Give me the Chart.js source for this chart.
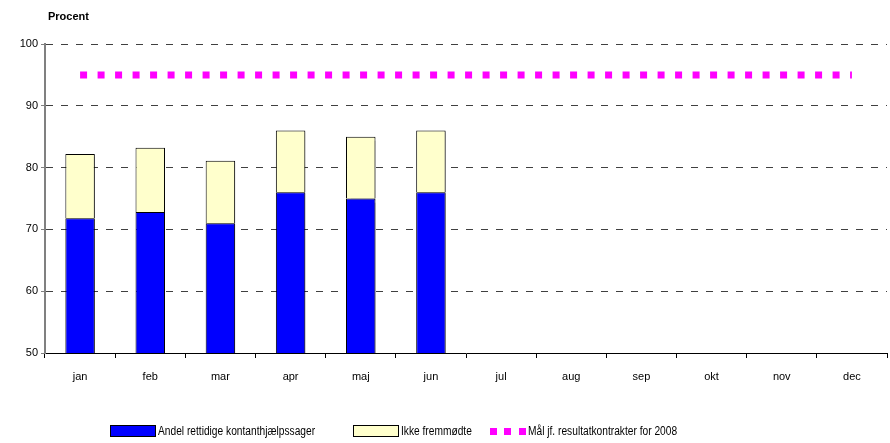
<!DOCTYPE html>
<html>
<head>
<meta charset="utf-8">
<script src="https://cdn.jsdelivr.net/npm/chart.js@4/dist/chart.umd.min.js"></script>
<style>
	body{margin:0;background:#fff;}
	#wrap{position:relative;width:890px;height:443px;}
	#legend{position:absolute;left:110px;top:424px;display:flex;align-items:center;font:12px "Liberation Sans",Arial,sans-serif;color:#000;white-space:nowrap;}
	#legend .item{display:flex;align-items:center;}
	#legend .item.i0{margin-right:38px;}
	#legend .item.i1{margin-right:18px;}
	#legend .box{width:44px;height:10px;border:1px solid #000;margin-right:2px;}
	#legend .dots{display:flex;width:36px;justify-content:space-between;margin-right:2px;}
	#legend .dots span{width:7px;height:7px;}
	#legend .txt{display:inline-block;transform:scaleX(0.85);transform-origin:left center;}
</style>
</head>
<body>
<div id="wrap">
	<canvas id="chart" width="890" height="443"></canvas>
	<div id="legend"></div>
</div>
<script>
const months = ['jan','feb','mar','apr','maj','jun','jul','aug','sep','okt','nov','dec'];
const andel = [71.8, 72.8, 71.0, 76.0, 75.0, 76.0]; // andel rettidige
const ikke = [10.4, 10.4, 10.1, 10.0, 10.0, 10.0]; // ikke fremmødte (oven på)
const maal = [95,95,95,95,95,95,95,95,95,95,95,95];

const fam = '"Liberation Sans", Arial, sans-serif';
const font = {family:fam, size:11};

// "Procent" over y-aksen
const procentLabel = {
	id:'procentLabel',
	afterDraw(chart){
		const ctx = chart.ctx;
		ctx.save();
		ctx.font = 'bold 11px ' + fam;
		ctx.fillStyle = '#000';
		ctx.textBaseline = 'middle';
		ctx.fillText('Procent', chart.chartArea.left + 3, 17);
		ctx.restore();
	}
};

// lidt skygge bag søjlerne
const barShadow = {
	id:'barShadow',
	beforeDatasetDraw(chart, args){
		if(args.meta.type !== 'bar') return;
		const ctx = chart.ctx;
		ctx.save();
		ctx.shadowColor = 'rgba(0,0,0,0.3)';
		ctx.shadowOffsetX = 2;
		ctx.shadowOffsetY = 1;
		ctx.shadowBlur = 1;
	},
	afterDatasetDraw(chart, args){
		if(args.meta.type !== 'bar') return;
		chart.ctx.restore();
	}
};

const ctx = document.querySelector('#chart');
const chart = new Chart(ctx, {
	type:'bar',
	data:{
		labels: months,
		datasets:[{
			label:'Andel rettidige kontanthjælpssager',
			backgroundColor:'#0000FF',
			borderColor:'#000000',
			borderWidth:1,
			stack:'a',
			data: andel
		},{
			label:'Ikke fremmødte',
			backgroundColor:'#FFFFCC',
			borderColor:'#000000',
			borderWidth:1,
			stack:'a',
			data: ikke
		},{
			type:'line',
			label:'Mål jf. resultatkontrakter for 2008',
			borderColor:'#FF00FF',
			backgroundColor:'#FF00FF',
			borderWidth:7,
			borderDash:[7,10.5],
			pointRadius:0,
			fill:false,
			stack:'maal',
			data: maal
		}]
	},
	options:{
		responsive:false,
		animation:false,
		layout:{padding:{top:44,left:0,right:3,bottom:60}},
		plugins:{
			legend:{display:false},
			tooltip:{enabled:false}
		},
		datasets:{bar:{categoryPercentage:1, barPercentage:0.42}},
		scales:{
			x:{
				stacked:true,
				grid:{display:true, drawOnChartArea:false, drawTicks:true, tickLength:5, color:'#000', offset:true},
				border:{display:true, color:'#000', width:1},
				ticks:{font:font, color:'#000', padding:12},
				afterFit(scale){ scale.height = 30; }
			},
			y:{
				stacked:true,
				min:50, max:100,
				ticks:{stepSize:10, font:font, color:'#000', padding:3},
				grid:{
					color:(c) => c.tick && c.tick.value === 50 ? 'rgba(0,0,0,0)' : '#404040',
					tickColor:'#808080', tickLength:4, tickBorderDash:[]
				},
				border:{display:true, color:'#808080', width:2, dash:[7,8]},
				afterFit(scale){ scale.width = 45; }
			}
		}
	},
	plugins:[procentLabel, barShadow]
});

// legende bygges ud fra datasættene
const legend = document.querySelector('#legend');
chart.data.datasets.forEach(function(ds, i){
	const item = document.createElement('div');
	item.className = 'item i' + i;
	let sw;
	if(ds.type === 'line'){
		sw = document.createElement('div');
		sw.className = 'dots';
		for(let k=0; k<3; k++){
			const d = document.createElement('span');
			d.style.background = ds.borderColor;
			sw.appendChild(d);
		}
	}else{
		sw = document.createElement('div');
		sw.className = 'box';
		sw.style.background = ds.backgroundColor;
	}
	item.appendChild(sw);
	const t = document.createElement('span');
	t.className = 'txt';
	t.textContent = ds.label;
	item.appendChild(t);
	legend.appendChild(item);
	// smallere tekst: træk den sammenpressede bredde fra
	t.style.marginRight = (-t.offsetWidth * 0.15) + 'px';
});
</script>
</body>
</html>
